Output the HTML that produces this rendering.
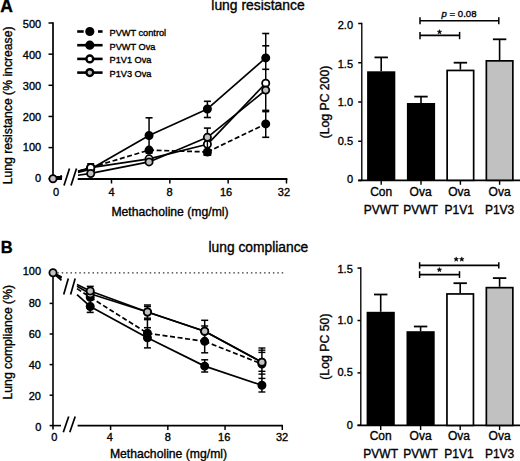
<!DOCTYPE html>
<html><head><meta charset="utf-8"><style>
html,body{margin:0;padding:0;background:#fff;}
svg{display:block;}
text{font-family:"Liberation Sans", sans-serif;fill:#000;stroke:#000;stroke-width:0.35px;}
</style></head><body>
<svg width="520" height="461" viewBox="0 0 520 461">
<rect width="520" height="461" fill="#fff"/>
<text x="0.3" y="12.4" font-size="17.5" text-anchor="start" font-weight="bold">A</text>
<text x="0.8" y="252.8" font-size="16.5" text-anchor="start" font-weight="bold">B</text>
<text x="211.3" y="10" font-size="13.9" text-anchor="start" font-weight="normal">lung resistance</text>
<text x="208.5" y="251.5" font-size="13.8" text-anchor="start" font-weight="normal">lung compliance</text>
<line x1="53.00" y1="22.20" x2="53.00" y2="178.75" stroke="#000" stroke-width="1.7" stroke-linecap="butt"/>
<line x1="48.50" y1="178.75" x2="53.00" y2="178.75" stroke="#000" stroke-width="1.5" stroke-linecap="butt"/>
<text x="41.2" y="182.3" font-size="11" text-anchor="end" font-weight="normal">0</text>
<line x1="48.50" y1="147.60" x2="53.00" y2="147.60" stroke="#000" stroke-width="1.5" stroke-linecap="butt"/>
<text x="41.2" y="151.25" font-size="11" text-anchor="end" font-weight="normal">100</text>
<line x1="48.50" y1="116.45" x2="53.00" y2="116.45" stroke="#000" stroke-width="1.5" stroke-linecap="butt"/>
<text x="41.2" y="120.7" font-size="11" text-anchor="end" font-weight="normal">200</text>
<line x1="48.50" y1="85.30" x2="53.00" y2="85.30" stroke="#000" stroke-width="1.5" stroke-linecap="butt"/>
<text x="41.2" y="89.8" font-size="11" text-anchor="end" font-weight="normal">300</text>
<line x1="48.50" y1="54.15" x2="53.00" y2="54.15" stroke="#000" stroke-width="1.5" stroke-linecap="butt"/>
<text x="41.2" y="58.9" font-size="11" text-anchor="end" font-weight="normal">400</text>
<line x1="48.50" y1="23.00" x2="53.00" y2="23.00" stroke="#000" stroke-width="1.5" stroke-linecap="butt"/>
<text x="41.2" y="27.9" font-size="11" text-anchor="end" font-weight="normal">500</text>
<line x1="53.00" y1="179.00" x2="62.00" y2="179.00" stroke="#000" stroke-width="1.8" stroke-linecap="butt"/>
<line x1="77.70" y1="179.00" x2="287.40" y2="179.00" stroke="#000" stroke-width="1.8" stroke-linecap="butt"/>
<line x1="111.50" y1="179.00" x2="111.50" y2="183.50" stroke="#000" stroke-width="1.5" stroke-linecap="butt"/>
<text x="111.65" y="196.0" font-size="11" text-anchor="middle" font-weight="normal">4</text>
<line x1="169.83" y1="179.00" x2="169.83" y2="183.50" stroke="#000" stroke-width="1.5" stroke-linecap="butt"/>
<text x="169.6" y="196.0" font-size="11" text-anchor="middle" font-weight="normal">8</text>
<line x1="228.16" y1="179.00" x2="228.16" y2="183.50" stroke="#000" stroke-width="1.5" stroke-linecap="butt"/>
<text x="226.1" y="196.0" font-size="11" text-anchor="middle" font-weight="normal">16</text>
<line x1="286.49" y1="179.00" x2="286.49" y2="183.50" stroke="#000" stroke-width="1.5" stroke-linecap="butt"/>
<text x="283.95" y="196.0" font-size="11" text-anchor="middle" font-weight="normal">32</text>
<text x="56" y="196.0" font-size="11" text-anchor="middle" font-weight="normal">0</text>
<line x1="64.00" y1="185.50" x2="69.50" y2="168.50" stroke="#000" stroke-width="1.7" stroke-linecap="butt"/>
<line x1="71.00" y1="185.50" x2="76.50" y2="168.50" stroke="#000" stroke-width="1.7" stroke-linecap="butt"/>
<text x="170" y="215.7" font-size="12.2" text-anchor="middle" font-weight="normal">Methacholine (mg/ml)</text>
<text x="12" y="105.4" font-size="12.2" text-anchor="middle" font-weight="normal" transform="rotate(-90 12 105.4)">Lung resistance (% increase)</text>
<line x1="53.00" y1="178.75" x2="62.00" y2="177.49" stroke="#000" stroke-width="1.7" stroke-linecap="butt"/>
<line x1="78.00" y1="175.24" x2="90.73" y2="173.45" stroke="#000" stroke-width="1.7" stroke-linecap="butt"/>
<line x1="90.73" y1="173.45" x2="149.06" y2="161.93" stroke="#000" stroke-width="1.7" stroke-linecap="butt"/>
<line x1="149.06" y1="161.93" x2="207.39" y2="137.32" stroke="#000" stroke-width="1.7" stroke-linecap="butt"/>
<line x1="207.39" y1="137.32" x2="265.72" y2="90.10" stroke="#000" stroke-width="1.7" stroke-linecap="butt"/>
<line x1="53.00" y1="178.75" x2="62.00" y2="176.11" stroke="#000" stroke-width="1.7" stroke-linecap="butt"/>
<line x1="78.00" y1="171.42" x2="90.73" y2="167.69" stroke="#000" stroke-width="1.7" stroke-linecap="butt"/>
<line x1="90.73" y1="167.69" x2="149.06" y2="158.81" stroke="#000" stroke-width="1.7" stroke-linecap="butt"/>
<line x1="149.06" y1="158.81" x2="207.39" y2="144.30" stroke="#000" stroke-width="1.7" stroke-linecap="butt"/>
<line x1="207.39" y1="144.30" x2="265.72" y2="83.28" stroke="#000" stroke-width="1.7" stroke-linecap="butt"/>
<line x1="53.00" y1="178.75" x2="62.00" y2="176.07" stroke="#000" stroke-width="1.7" stroke-linecap="butt" stroke-dasharray="5,2.6"/>
<line x1="78.00" y1="171.32" x2="90.73" y2="167.54" stroke="#000" stroke-width="1.7" stroke-linecap="butt" stroke-dasharray="5,2.6"/>
<line x1="90.73" y1="167.54" x2="149.06" y2="150.09" stroke="#000" stroke-width="1.7" stroke-linecap="butt" stroke-dasharray="5,2.6"/>
<line x1="149.06" y1="150.09" x2="207.39" y2="151.96" stroke="#000" stroke-width="1.7" stroke-linecap="butt" stroke-dasharray="5,2.6"/>
<line x1="207.39" y1="151.96" x2="265.72" y2="123.93" stroke="#000" stroke-width="1.7" stroke-linecap="butt" stroke-dasharray="5,2.6"/>
<line x1="53.00" y1="178.75" x2="62.00" y2="176.45" stroke="#000" stroke-width="1.7" stroke-linecap="butt"/>
<line x1="78.00" y1="172.35" x2="90.73" y2="169.09" stroke="#000" stroke-width="1.7" stroke-linecap="butt"/>
<line x1="90.73" y1="169.09" x2="149.06" y2="135.45" stroke="#000" stroke-width="1.7" stroke-linecap="butt"/>
<line x1="149.06" y1="135.45" x2="207.39" y2="108.97" stroke="#000" stroke-width="1.7" stroke-linecap="butt"/>
<line x1="207.39" y1="108.97" x2="265.72" y2="57.89" stroke="#000" stroke-width="1.7" stroke-linecap="butt"/>
<line x1="149.06" y1="117.80" x2="149.06" y2="153.00" stroke="#000" stroke-width="1.5" stroke-linecap="butt"/>
<line x1="145.56" y1="117.80" x2="152.56" y2="117.80" stroke="#000" stroke-width="1.6" stroke-linecap="butt"/>
<line x1="145.56" y1="153.00" x2="152.56" y2="153.00" stroke="#000" stroke-width="1.6" stroke-linecap="butt"/>
<line x1="90.73" y1="163.80" x2="90.73" y2="171.00" stroke="#000" stroke-width="1.5" stroke-linecap="butt"/>
<line x1="87.23" y1="163.80" x2="94.23" y2="163.80" stroke="#000" stroke-width="1.6" stroke-linecap="butt"/>
<line x1="87.23" y1="171.00" x2="94.23" y2="171.00" stroke="#000" stroke-width="1.6" stroke-linecap="butt"/>
<line x1="207.39" y1="101.30" x2="207.39" y2="117.50" stroke="#000" stroke-width="1.5" stroke-linecap="butt"/>
<line x1="203.89" y1="101.30" x2="210.89" y2="101.30" stroke="#000" stroke-width="1.6" stroke-linecap="butt"/>
<line x1="203.89" y1="117.50" x2="210.89" y2="117.50" stroke="#000" stroke-width="1.6" stroke-linecap="butt"/>
<line x1="207.39" y1="128.10" x2="207.39" y2="137.30" stroke="#000" stroke-width="1.5" stroke-linecap="butt"/>
<line x1="203.89" y1="128.10" x2="210.89" y2="128.10" stroke="#000" stroke-width="1.6" stroke-linecap="butt"/>
<line x1="203.89" y1="137.30" x2="210.89" y2="137.30" stroke="#000" stroke-width="1.6" stroke-linecap="butt"/>
<line x1="207.39" y1="150.00" x2="207.39" y2="155.00" stroke="#000" stroke-width="1.5" stroke-linecap="butt"/>
<line x1="203.89" y1="150.00" x2="210.89" y2="150.00" stroke="#000" stroke-width="1.6" stroke-linecap="butt"/>
<line x1="203.89" y1="155.00" x2="210.89" y2="155.00" stroke="#000" stroke-width="1.6" stroke-linecap="butt"/>
<line x1="265.72" y1="33.50" x2="265.72" y2="137.30" stroke="#000" stroke-width="1.5" stroke-linecap="butt"/>
<line x1="262.22" y1="33.50" x2="269.22" y2="33.50" stroke="#000" stroke-width="1.6" stroke-linecap="butt"/>
<line x1="262.22" y1="45.80" x2="269.22" y2="45.80" stroke="#000" stroke-width="1.6" stroke-linecap="butt"/>
<line x1="262.22" y1="69.30" x2="269.22" y2="69.30" stroke="#000" stroke-width="1.6" stroke-linecap="butt"/>
<line x1="262.22" y1="110.40" x2="269.22" y2="110.40" stroke="#000" stroke-width="1.6" stroke-linecap="butt"/>
<line x1="262.22" y1="111.60" x2="269.22" y2="111.60" stroke="#000" stroke-width="1.6" stroke-linecap="butt"/>
<line x1="262.22" y1="137.30" x2="269.22" y2="137.30" stroke="#000" stroke-width="1.6" stroke-linecap="butt"/>
<circle cx="90.73" cy="167.54" r="3.6" fill="#000" stroke="#000" stroke-width="1.8"/>
<circle cx="149.06" cy="150.09" r="3.6" fill="#000" stroke="#000" stroke-width="1.8"/>
<circle cx="207.39" cy="151.96" r="3.6" fill="#000" stroke="#000" stroke-width="1.8"/>
<circle cx="265.72" cy="123.93" r="3.6" fill="#000" stroke="#000" stroke-width="1.8"/>
<circle cx="90.73" cy="169.09" r="3.6" fill="#000" stroke="#000" stroke-width="1.8"/>
<circle cx="149.06" cy="135.45" r="3.6" fill="#000" stroke="#000" stroke-width="1.8"/>
<circle cx="207.39" cy="108.97" r="3.6" fill="#000" stroke="#000" stroke-width="1.8"/>
<circle cx="265.72" cy="57.89" r="3.6" fill="#000" stroke="#000" stroke-width="1.8"/>
<circle cx="90.73" cy="167.69" r="3.6" fill="#fff" stroke="#000" stroke-width="1.8"/>
<circle cx="149.06" cy="158.81" r="3.6" fill="#fff" stroke="#000" stroke-width="1.8"/>
<circle cx="207.39" cy="144.30" r="3.6" fill="#fff" stroke="#000" stroke-width="1.8"/>
<circle cx="265.72" cy="83.28" r="3.6" fill="#fff" stroke="#000" stroke-width="1.8"/>
<circle cx="90.73" cy="173.45" r="3.6" fill="#c1c1c1" stroke="#000" stroke-width="1.8"/>
<circle cx="149.06" cy="161.93" r="3.6" fill="#c1c1c1" stroke="#000" stroke-width="1.8"/>
<circle cx="207.39" cy="137.32" r="3.6" fill="#c1c1c1" stroke="#000" stroke-width="1.8"/>
<circle cx="265.72" cy="90.10" r="3.6" fill="#c1c1c1" stroke="#000" stroke-width="1.8"/>
<polygon points="56,176 62,176.3 62,179.8 56,180" fill="#000"/>
<circle cx="53.00" cy="178.75" r="3.6" fill="#c1c1c1" stroke="#000" stroke-width="1.8"/>
<line x1="207.39" y1="140.60" x2="207.39" y2="147.60" stroke="#000" stroke-width="1.4" stroke-linecap="butt"/>
<rect x="203.49" y="151" width="7.8" height="4.9" fill="#000"/>
<line x1="77.20" y1="31.50" x2="83.70" y2="31.50" stroke="#000" stroke-width="2.6" stroke-linecap="butt"/>
<line x1="98.00" y1="31.50" x2="102.60" y2="31.50" stroke="#000" stroke-width="2.6" stroke-linecap="butt"/>
<circle cx="89.80" cy="31.50" r="3.4" fill="#000" stroke="#000" stroke-width="2.4"/>
<text x="109.6" y="35.8" font-size="9.2" text-anchor="start" font-weight="normal">PVWT control</text>
<line x1="77.20" y1="45.20" x2="102.60" y2="45.20" stroke="#000" stroke-width="2.6" stroke-linecap="butt"/>
<circle cx="89.80" cy="45.20" r="3.4" fill="#000" stroke="#000" stroke-width="2.4"/>
<text x="109.6" y="49.5" font-size="9.2" text-anchor="start" font-weight="normal">PVWT Ova</text>
<line x1="77.20" y1="58.90" x2="102.60" y2="58.90" stroke="#000" stroke-width="2.6" stroke-linecap="butt"/>
<circle cx="89.80" cy="58.90" r="3.4" fill="#fff" stroke="#000" stroke-width="2.4"/>
<text x="109.6" y="63.199999999999996" font-size="9.2" text-anchor="start" font-weight="normal">P1V1 Ova</text>
<line x1="77.20" y1="72.60" x2="102.60" y2="72.60" stroke="#000" stroke-width="2.6" stroke-linecap="butt"/>
<circle cx="89.80" cy="72.60" r="3.4" fill="#c1c1c1" stroke="#000" stroke-width="2.4"/>
<text x="109.6" y="76.89999999999999" font-size="9.2" text-anchor="start" font-weight="normal">P1V3 Ova</text>
<line x1="361.80" y1="22.80" x2="361.80" y2="180.30" stroke="#000" stroke-width="1.35" stroke-linecap="butt"/>
<line x1="358.20" y1="180.50" x2="361.80" y2="180.50" stroke="#000" stroke-width="1.5" stroke-linecap="butt"/>
<text x="353" y="183.3" font-size="11" text-anchor="end" font-weight="normal">0</text>
<line x1="358.20" y1="141.25" x2="361.80" y2="141.25" stroke="#000" stroke-width="1.5" stroke-linecap="butt"/>
<text x="353" y="144.75" font-size="11" text-anchor="end" font-weight="normal">0.5</text>
<line x1="358.20" y1="102.00" x2="361.80" y2="102.00" stroke="#000" stroke-width="1.5" stroke-linecap="butt"/>
<text x="353" y="106.3" font-size="11" text-anchor="end" font-weight="normal">1.0</text>
<line x1="358.20" y1="62.75" x2="361.80" y2="62.75" stroke="#000" stroke-width="1.5" stroke-linecap="butt"/>
<text x="353" y="68.15" font-size="11" text-anchor="end" font-weight="normal">1.5</text>
<line x1="358.20" y1="23.50" x2="361.80" y2="23.50" stroke="#000" stroke-width="1.5" stroke-linecap="butt"/>
<text x="353" y="29.45" font-size="11" text-anchor="end" font-weight="normal">2.0</text>
<line x1="358.20" y1="180.30" x2="520.00" y2="180.30" stroke="#000" stroke-width="1.8" stroke-linecap="butt"/>
<line x1="381.20" y1="180.30" x2="381.20" y2="184.80" stroke="#000" stroke-width="1.4" stroke-linecap="butt"/>
<line x1="421.00" y1="180.30" x2="421.00" y2="184.80" stroke="#000" stroke-width="1.4" stroke-linecap="butt"/>
<line x1="460.40" y1="180.30" x2="460.40" y2="184.80" stroke="#000" stroke-width="1.4" stroke-linecap="butt"/>
<line x1="499.60" y1="180.30" x2="499.60" y2="184.80" stroke="#000" stroke-width="1.4" stroke-linecap="butt"/>
<text x="329" y="102" font-size="12.2" text-anchor="middle" font-weight="normal" transform="rotate(-90 329 102)">(Log PC 200)</text>
<line x1="381.20" y1="57.40" x2="381.20" y2="71.30" stroke="#000" stroke-width="1.6" stroke-linecap="butt"/>
<line x1="374.50" y1="57.40" x2="387.90" y2="57.40" stroke="#000" stroke-width="1.8" stroke-linecap="butt"/>
<line x1="421.00" y1="96.60" x2="421.00" y2="103.00" stroke="#000" stroke-width="1.6" stroke-linecap="butt"/>
<line x1="414.30" y1="96.60" x2="427.70" y2="96.60" stroke="#000" stroke-width="1.8" stroke-linecap="butt"/>
<line x1="460.40" y1="62.70" x2="460.40" y2="69.60" stroke="#000" stroke-width="1.6" stroke-linecap="butt"/>
<line x1="453.70" y1="62.70" x2="467.10" y2="62.70" stroke="#000" stroke-width="1.8" stroke-linecap="butt"/>
<line x1="499.60" y1="39.30" x2="499.60" y2="60.00" stroke="#000" stroke-width="1.6" stroke-linecap="butt"/>
<line x1="492.90" y1="39.30" x2="506.30" y2="39.30" stroke="#000" stroke-width="1.8" stroke-linecap="butt"/>
<rect x="367.10" y="71.3" width="28.2" height="109.00" fill="#000"/>
<rect x="406.90" y="103" width="28.2" height="77.30" fill="#000"/>
<rect x="447.15" y="70.44999999999999" width="26.5" height="109.85" fill="#fff" stroke="#000" stroke-width="1.7"/>
<rect x="486.35" y="60.85" width="26.5" height="119.45" fill="#c1c1c1" stroke="#000" stroke-width="1.7"/>
<text x="381.2" y="195.7" font-size="12" text-anchor="middle" font-weight="normal">Con</text>
<text x="381.2" y="213.5" font-size="12" text-anchor="middle" font-weight="normal">PVWT</text>
<text x="420.6" y="195.7" font-size="12" text-anchor="middle" font-weight="normal">Ova</text>
<text x="420.6" y="213.5" font-size="12" text-anchor="middle" font-weight="normal">PVWT</text>
<text x="459.2" y="195.7" font-size="12" text-anchor="middle" font-weight="normal">Ova</text>
<text x="459.2" y="213.5" font-size="12" text-anchor="middle" font-weight="normal">P1V1</text>
<text x="499.6" y="195.7" font-size="12" text-anchor="middle" font-weight="normal">Ova</text>
<text x="499.6" y="213.5" font-size="12" text-anchor="middle" font-weight="normal">P1V3</text>
<line x1="420.00" y1="35.40" x2="459.60" y2="35.40" stroke="#000" stroke-width="1.6" stroke-linecap="butt"/>
<line x1="420.00" y1="31.90" x2="420.00" y2="39.20" stroke="#000" stroke-width="1.5" stroke-linecap="butt"/>
<line x1="459.60" y1="31.90" x2="459.60" y2="39.20" stroke="#000" stroke-width="1.5" stroke-linecap="butt"/>
<polygon points="439.50,29.60 440.12,31.15 441.78,31.26 440.50,32.32 440.91,33.94 439.50,33.05 438.09,33.94 438.50,32.32 437.22,31.26 438.88,31.15" fill="#000" stroke="#000" stroke-width="0.5" stroke-linejoin="round"/>
<line x1="420.00" y1="20.80" x2="498.80" y2="20.80" stroke="#000" stroke-width="1.6" stroke-linecap="butt"/>
<line x1="420.00" y1="17.30" x2="420.00" y2="24.30" stroke="#000" stroke-width="1.5" stroke-linecap="butt"/>
<line x1="498.80" y1="17.30" x2="498.80" y2="24.30" stroke="#000" stroke-width="1.5" stroke-linecap="butt"/>
<text x="459" y="17.4" font-size="9.6" text-anchor="middle"><tspan font-style="italic">p</tspan> = 0.08</text>
<line x1="53.00" y1="272.80" x2="53.00" y2="429.60" stroke="#000" stroke-width="1.6" stroke-linecap="butt"/>
<line x1="49.60" y1="395.20" x2="53.00" y2="395.20" stroke="#000" stroke-width="1.5" stroke-linecap="butt"/>
<text x="41" y="399.8" font-size="11" text-anchor="end" font-weight="normal">20</text>
<line x1="49.60" y1="364.60" x2="53.00" y2="364.60" stroke="#000" stroke-width="1.5" stroke-linecap="butt"/>
<text x="41" y="368.55" font-size="11" text-anchor="end" font-weight="normal">40</text>
<line x1="49.60" y1="334.00" x2="53.00" y2="334.00" stroke="#000" stroke-width="1.5" stroke-linecap="butt"/>
<text x="41" y="337.55" font-size="11" text-anchor="end" font-weight="normal">60</text>
<line x1="49.60" y1="303.40" x2="53.00" y2="303.40" stroke="#000" stroke-width="1.5" stroke-linecap="butt"/>
<text x="41" y="306.7" font-size="11" text-anchor="end" font-weight="normal">80</text>
<line x1="49.60" y1="272.80" x2="53.00" y2="272.80" stroke="#000" stroke-width="1.5" stroke-linecap="butt"/>
<text x="41" y="275.2" font-size="11" text-anchor="end" font-weight="normal">100</text>
<line x1="49.60" y1="425.60" x2="61.00" y2="425.60" stroke="#000" stroke-width="1.6" stroke-linecap="butt"/>
<text x="41.3" y="431.1" font-size="11" text-anchor="end" font-weight="normal">0</text>
<line x1="77.60" y1="425.60" x2="283.00" y2="425.60" stroke="#000" stroke-width="1.7" stroke-linecap="butt"/>
<line x1="110.60" y1="425.60" x2="110.60" y2="430.00" stroke="#000" stroke-width="1.5" stroke-linecap="butt"/>
<text x="109.9" y="441.3" font-size="11" text-anchor="middle" font-weight="normal">4</text>
<line x1="167.83" y1="425.60" x2="167.83" y2="430.00" stroke="#000" stroke-width="1.5" stroke-linecap="butt"/>
<text x="167.8" y="441.3" font-size="11" text-anchor="middle" font-weight="normal">8</text>
<line x1="225.06" y1="425.60" x2="225.06" y2="430.00" stroke="#000" stroke-width="1.5" stroke-linecap="butt"/>
<text x="224.2" y="441.3" font-size="11" text-anchor="middle" font-weight="normal">16</text>
<line x1="282.29" y1="425.60" x2="282.29" y2="430.00" stroke="#000" stroke-width="1.5" stroke-linecap="butt"/>
<text x="282.1" y="441.3" font-size="11" text-anchor="middle" font-weight="normal">32</text>
<text x="54.2" y="441.3" font-size="11" text-anchor="middle" font-weight="normal">0</text>
<line x1="63.30" y1="432.30" x2="68.70" y2="416.40" stroke="#000" stroke-width="1.7" stroke-linecap="butt"/>
<line x1="69.80" y1="432.30" x2="75.20" y2="416.40" stroke="#000" stroke-width="1.7" stroke-linecap="butt"/>
<line x1="63.70" y1="294.60" x2="68.30" y2="278.50" stroke="#000" stroke-width="1.7" stroke-linecap="butt"/>
<line x1="70.60" y1="294.60" x2="75.20" y2="278.50" stroke="#000" stroke-width="1.7" stroke-linecap="butt"/>
<text x="168.5" y="458" font-size="12.2" text-anchor="middle" font-weight="normal">Methacholine (mg/ml)</text>
<text x="12" y="342.2" font-size="12.2" text-anchor="middle" font-weight="normal" transform="rotate(-90 12 342.2)">Lung compliance (%)</text>
<line x1="57.30" y1="272.80" x2="283.50" y2="272.80" stroke="#333" stroke-width="1.2" stroke-linecap="butt" stroke-dasharray="1.5,2.9"/>
<line x1="53.00" y1="272.80" x2="61.50" y2="280.49" stroke="#000" stroke-width="1.7" stroke-linecap="butt"/>
<line x1="77.00" y1="294.51" x2="90.22" y2="306.46" stroke="#000" stroke-width="1.7" stroke-linecap="butt"/>
<line x1="90.22" y1="306.46" x2="147.45" y2="337.82" stroke="#000" stroke-width="1.7" stroke-linecap="butt"/>
<line x1="147.45" y1="337.82" x2="204.68" y2="366.13" stroke="#000" stroke-width="1.7" stroke-linecap="butt"/>
<line x1="204.68" y1="366.13" x2="261.91" y2="385.25" stroke="#000" stroke-width="1.7" stroke-linecap="butt"/>
<line x1="53.00" y1="272.80" x2="61.50" y2="278.39" stroke="#000" stroke-width="1.7" stroke-linecap="butt" stroke-dasharray="5,2.6"/>
<line x1="77.00" y1="288.59" x2="90.22" y2="297.28" stroke="#000" stroke-width="1.7" stroke-linecap="butt" stroke-dasharray="5,2.6"/>
<line x1="90.22" y1="297.28" x2="147.45" y2="333.24" stroke="#000" stroke-width="1.7" stroke-linecap="butt" stroke-dasharray="5,2.6"/>
<line x1="147.45" y1="333.24" x2="204.68" y2="341.34" stroke="#000" stroke-width="1.7" stroke-linecap="butt" stroke-dasharray="5,2.6"/>
<line x1="204.68" y1="341.34" x2="261.91" y2="363.99" stroke="#000" stroke-width="1.7" stroke-linecap="butt" stroke-dasharray="5,2.6"/>
<line x1="53.00" y1="272.80" x2="61.50" y2="277.59" stroke="#000" stroke-width="1.7" stroke-linecap="butt"/>
<line x1="77.00" y1="286.32" x2="90.22" y2="293.76" stroke="#000" stroke-width="1.7" stroke-linecap="butt"/>
<line x1="90.22" y1="293.76" x2="147.45" y2="311.97" stroke="#000" stroke-width="1.7" stroke-linecap="butt"/>
<line x1="147.45" y1="311.97" x2="204.68" y2="331.25" stroke="#000" stroke-width="1.7" stroke-linecap="butt"/>
<line x1="204.68" y1="331.25" x2="261.91" y2="362.15" stroke="#000" stroke-width="1.7" stroke-linecap="butt"/>
<line x1="53.00" y1="272.80" x2="61.50" y2="276.96" stroke="#000" stroke-width="1.7" stroke-linecap="butt"/>
<line x1="77.00" y1="284.54" x2="90.22" y2="291.01" stroke="#000" stroke-width="1.7" stroke-linecap="butt"/>
<line x1="90.22" y1="291.01" x2="147.45" y2="311.97" stroke="#000" stroke-width="1.7" stroke-linecap="butt"/>
<line x1="147.45" y1="311.97" x2="204.68" y2="331.25" stroke="#000" stroke-width="1.7" stroke-linecap="butt"/>
<line x1="204.68" y1="331.25" x2="261.91" y2="362.15" stroke="#000" stroke-width="1.7" stroke-linecap="butt"/>
<line x1="90.22" y1="286.40" x2="90.22" y2="312.40" stroke="#000" stroke-width="1.5" stroke-linecap="butt"/>
<line x1="86.72" y1="286.40" x2="93.72" y2="286.40" stroke="#000" stroke-width="1.6" stroke-linecap="butt"/>
<line x1="86.72" y1="312.40" x2="93.72" y2="312.40" stroke="#000" stroke-width="1.6" stroke-linecap="butt"/>
<line x1="147.45" y1="305.50" x2="147.45" y2="347.90" stroke="#000" stroke-width="1.5" stroke-linecap="butt"/>
<line x1="143.95" y1="305.00" x2="150.95" y2="305.00" stroke="#000" stroke-width="1.5" stroke-linecap="butt"/>
<line x1="143.95" y1="306.50" x2="150.95" y2="306.50" stroke="#000" stroke-width="1.5" stroke-linecap="butt"/>
<line x1="143.95" y1="318.20" x2="150.95" y2="318.20" stroke="#000" stroke-width="1.5" stroke-linecap="butt"/>
<line x1="143.95" y1="319.60" x2="150.95" y2="319.60" stroke="#000" stroke-width="1.5" stroke-linecap="butt"/>
<line x1="143.95" y1="327.70" x2="150.95" y2="327.70" stroke="#000" stroke-width="1.5" stroke-linecap="butt"/>
<line x1="143.95" y1="347.90" x2="150.95" y2="347.90" stroke="#000" stroke-width="1.5" stroke-linecap="butt"/>
<line x1="204.68" y1="320.30" x2="204.68" y2="352.80" stroke="#000" stroke-width="1.5" stroke-linecap="butt"/>
<line x1="204.68" y1="359.80" x2="204.68" y2="372.00" stroke="#000" stroke-width="1.5" stroke-linecap="butt"/>
<line x1="201.18" y1="320.30" x2="208.18" y2="320.30" stroke="#000" stroke-width="1.5" stroke-linecap="butt"/>
<line x1="201.18" y1="326.00" x2="208.18" y2="326.00" stroke="#000" stroke-width="1.5" stroke-linecap="butt"/>
<line x1="201.18" y1="352.80" x2="208.18" y2="352.80" stroke="#000" stroke-width="1.5" stroke-linecap="butt"/>
<line x1="201.18" y1="359.80" x2="208.18" y2="359.80" stroke="#000" stroke-width="1.5" stroke-linecap="butt"/>
<line x1="201.18" y1="372.00" x2="208.18" y2="372.00" stroke="#000" stroke-width="1.5" stroke-linecap="butt"/>
<line x1="261.91" y1="348.00" x2="261.91" y2="392.00" stroke="#000" stroke-width="1.5" stroke-linecap="butt"/>
<line x1="258.41" y1="348.00" x2="265.41" y2="348.00" stroke="#000" stroke-width="1.4" stroke-linecap="butt"/>
<line x1="258.41" y1="350.20" x2="265.41" y2="350.20" stroke="#000" stroke-width="1.4" stroke-linecap="butt"/>
<line x1="258.41" y1="352.40" x2="265.41" y2="352.40" stroke="#000" stroke-width="1.4" stroke-linecap="butt"/>
<line x1="258.41" y1="371.30" x2="265.41" y2="371.30" stroke="#000" stroke-width="1.4" stroke-linecap="butt"/>
<line x1="258.41" y1="374.10" x2="265.41" y2="374.10" stroke="#000" stroke-width="1.4" stroke-linecap="butt"/>
<line x1="258.41" y1="378.40" x2="265.41" y2="378.40" stroke="#000" stroke-width="1.4" stroke-linecap="butt"/>
<line x1="258.41" y1="392.00" x2="265.41" y2="392.00" stroke="#000" stroke-width="1.4" stroke-linecap="butt"/>
<circle cx="90.22" cy="306.46" r="3.6" fill="#000" stroke="#000" stroke-width="1.8"/>
<circle cx="147.45" cy="337.82" r="3.6" fill="#000" stroke="#000" stroke-width="1.8"/>
<circle cx="204.68" cy="366.13" r="3.6" fill="#000" stroke="#000" stroke-width="1.8"/>
<circle cx="261.91" cy="385.25" r="3.6" fill="#000" stroke="#000" stroke-width="1.8"/>
<circle cx="90.22" cy="297.28" r="3.6" fill="#000" stroke="#000" stroke-width="1.8"/>
<circle cx="147.45" cy="333.24" r="3.6" fill="#000" stroke="#000" stroke-width="1.8"/>
<circle cx="204.68" cy="341.34" r="3.6" fill="#000" stroke="#000" stroke-width="1.8"/>
<circle cx="261.91" cy="363.99" r="3.6" fill="#000" stroke="#000" stroke-width="1.8"/>
<circle cx="90.22" cy="293.76" r="3.6" fill="#fff" stroke="#000" stroke-width="1.8"/>
<circle cx="147.45" cy="311.97" r="3.6" fill="#fff" stroke="#000" stroke-width="1.8"/>
<circle cx="204.68" cy="331.25" r="3.6" fill="#fff" stroke="#000" stroke-width="1.8"/>
<circle cx="261.91" cy="362.15" r="3.6" fill="#fff" stroke="#000" stroke-width="1.8"/>
<circle cx="90.22" cy="291.01" r="3.6" fill="#c1c1c1" stroke="#000" stroke-width="1.8"/>
<circle cx="147.45" cy="311.97" r="3.6" fill="#c1c1c1" stroke="#000" stroke-width="1.8"/>
<circle cx="204.68" cy="331.25" r="3.6" fill="#c1c1c1" stroke="#000" stroke-width="1.8"/>
<circle cx="261.91" cy="362.15" r="3.6" fill="#c1c1c1" stroke="#000" stroke-width="1.8"/>
<circle cx="53.00" cy="272.80" r="3.6" fill="#c1c1c1" stroke="#000" stroke-width="1.8"/>
<line x1="360.80" y1="267.30" x2="360.80" y2="425.40" stroke="#000" stroke-width="1.35" stroke-linecap="butt"/>
<line x1="357.50" y1="425.30" x2="360.80" y2="425.30" stroke="#000" stroke-width="1.5" stroke-linecap="butt"/>
<text x="352.8" y="428.65" font-size="11" text-anchor="end" font-weight="normal">0</text>
<line x1="357.50" y1="372.90" x2="360.80" y2="372.90" stroke="#000" stroke-width="1.5" stroke-linecap="butt"/>
<text x="352.8" y="376.15" font-size="11" text-anchor="end" font-weight="normal">0.5</text>
<line x1="357.50" y1="320.50" x2="360.80" y2="320.50" stroke="#000" stroke-width="1.5" stroke-linecap="butt"/>
<text x="352.8" y="324.35" font-size="11" text-anchor="end" font-weight="normal">1.0</text>
<line x1="357.50" y1="268.10" x2="360.80" y2="268.10" stroke="#000" stroke-width="1.5" stroke-linecap="butt"/>
<text x="352.8" y="272.9" font-size="11" text-anchor="end" font-weight="normal">1.5</text>
<line x1="357.50" y1="425.40" x2="520.00" y2="425.40" stroke="#000" stroke-width="1.8" stroke-linecap="butt"/>
<line x1="380.70" y1="425.40" x2="380.70" y2="430.00" stroke="#000" stroke-width="1.4" stroke-linecap="butt"/>
<line x1="420.60" y1="425.40" x2="420.60" y2="430.00" stroke="#000" stroke-width="1.4" stroke-linecap="butt"/>
<line x1="460.20" y1="425.40" x2="460.20" y2="430.00" stroke="#000" stroke-width="1.4" stroke-linecap="butt"/>
<line x1="499.60" y1="425.40" x2="499.60" y2="430.00" stroke="#000" stroke-width="1.4" stroke-linecap="butt"/>
<text x="329" y="346.6" font-size="12.3" text-anchor="middle" font-weight="normal" transform="rotate(-90 329 346.6)">(Log PC 50)</text>
<line x1="380.70" y1="294.50" x2="380.70" y2="311.80" stroke="#000" stroke-width="1.6" stroke-linecap="butt"/>
<line x1="374.00" y1="294.50" x2="387.40" y2="294.50" stroke="#000" stroke-width="1.8" stroke-linecap="butt"/>
<line x1="420.60" y1="326.50" x2="420.60" y2="331.20" stroke="#000" stroke-width="1.6" stroke-linecap="butt"/>
<line x1="413.90" y1="326.50" x2="427.30" y2="326.50" stroke="#000" stroke-width="1.8" stroke-linecap="butt"/>
<line x1="460.20" y1="283.20" x2="460.20" y2="293.10" stroke="#000" stroke-width="1.6" stroke-linecap="butt"/>
<line x1="453.50" y1="283.20" x2="466.90" y2="283.20" stroke="#000" stroke-width="1.8" stroke-linecap="butt"/>
<line x1="499.60" y1="278.10" x2="499.60" y2="286.80" stroke="#000" stroke-width="1.6" stroke-linecap="butt"/>
<line x1="492.90" y1="278.10" x2="506.30" y2="278.10" stroke="#000" stroke-width="1.8" stroke-linecap="butt"/>
<rect x="366.60" y="311.8" width="28.2" height="113.60" fill="#000"/>
<rect x="406.50" y="331.2" width="28.2" height="94.20" fill="#000"/>
<rect x="446.95" y="293.95000000000005" width="26.5" height="131.45" fill="#fff" stroke="#000" stroke-width="1.7"/>
<rect x="486.35" y="287.65000000000003" width="26.5" height="137.75" fill="#c1c1c1" stroke="#000" stroke-width="1.7"/>
<text x="380.7" y="440.3" font-size="12" text-anchor="middle" font-weight="normal">Con</text>
<text x="380.7" y="457.6" font-size="12" text-anchor="middle" font-weight="normal">PVWT</text>
<text x="420.6" y="440.3" font-size="12" text-anchor="middle" font-weight="normal">Ova</text>
<text x="420.6" y="457.6" font-size="12" text-anchor="middle" font-weight="normal">PVWT</text>
<text x="459.0" y="440.3" font-size="12" text-anchor="middle" font-weight="normal">Ova</text>
<text x="459.0" y="457.6" font-size="12" text-anchor="middle" font-weight="normal">P1V1</text>
<text x="499.6" y="440.3" font-size="12" text-anchor="middle" font-weight="normal">Ova</text>
<text x="499.6" y="457.6" font-size="12" text-anchor="middle" font-weight="normal">P1V3</text>
<line x1="419.60" y1="274.60" x2="459.50" y2="274.60" stroke="#000" stroke-width="1.6" stroke-linecap="butt"/>
<line x1="419.60" y1="271.20" x2="419.60" y2="278.00" stroke="#000" stroke-width="1.5" stroke-linecap="butt"/>
<line x1="459.50" y1="271.20" x2="459.50" y2="278.00" stroke="#000" stroke-width="1.5" stroke-linecap="butt"/>
<polygon points="439.40,267.40 440.02,268.95 441.68,269.06 440.40,270.12 440.81,271.74 439.40,270.85 437.99,271.74 438.40,270.12 437.12,269.06 438.78,268.95" fill="#000" stroke="#000" stroke-width="0.5" stroke-linejoin="round"/>
<line x1="419.60" y1="265.40" x2="498.80" y2="265.40" stroke="#000" stroke-width="1.6" stroke-linecap="butt"/>
<line x1="419.60" y1="262.20" x2="419.60" y2="268.60" stroke="#000" stroke-width="1.5" stroke-linecap="butt"/>
<line x1="498.80" y1="262.20" x2="498.80" y2="268.60" stroke="#000" stroke-width="1.5" stroke-linecap="butt"/>
<polygon points="456.20,256.90 456.82,258.45 458.48,258.56 457.20,259.62 457.61,261.24 456.20,260.35 454.79,261.24 455.20,259.62 453.92,258.56 455.58,258.45" fill="#000" stroke="#000" stroke-width="0.5" stroke-linejoin="round"/>
<polygon points="461.80,256.90 462.42,258.45 464.08,258.56 462.80,259.62 463.21,261.24 461.80,260.35 460.39,261.24 460.80,259.62 459.52,258.56 461.18,258.45" fill="#000" stroke="#000" stroke-width="0.5" stroke-linejoin="round"/>
</svg>
</body></html>
